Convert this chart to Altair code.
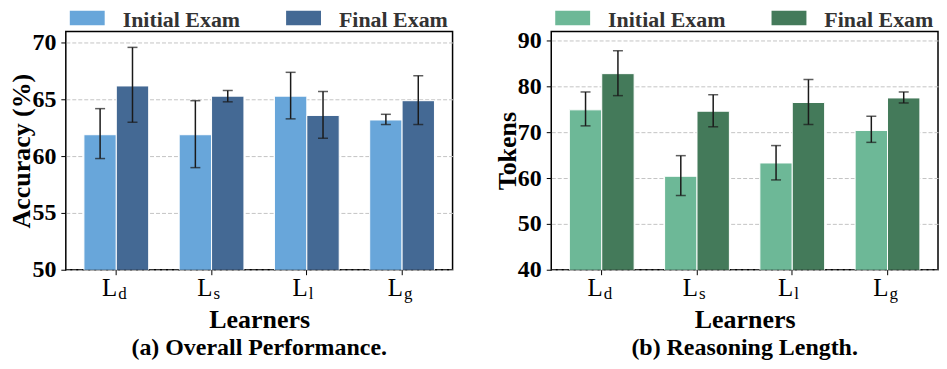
import altair as alt
import pandas as pd

learners = ["Ld", "Ls", "Ll", "Lg"]
subs = ["d", "s", "l", "g"]
exams = ["Initial Exam", "Final Exam"]

acc_init = [61.9, 61.9, 65.3, 63.2]
acc_init_lo = [59.8, 59.0, 63.3, 62.8]
acc_init_hi = [64.2, 64.9, 67.4, 63.7]
acc_final = [66.2, 65.3, 63.6, 64.9]
acc_final_lo = [63.0, 64.8, 61.6, 62.8]
acc_final_hi = [69.6, 65.8, 65.7, 67.1]

tok_init = [74.9, 60.4, 63.3, 70.4]
tok_init_lo = [71.4, 56.2, 59.6, 67.8]
tok_init_hi = [78.8, 64.9, 67.1, 73.5]
tok_final = [82.8, 74.6, 76.5, 77.5]
tok_final_lo = [78.0, 71.2, 71.7, 76.4]
tok_final_hi = [87.8, 78.2, 81.5, 78.8]

acc_colors = ["#68a6da", "#446994"]
tok_colors = ["#6db897", "#447a5a"]

FONT = "Liberation Serif"
W, H = 388, 239


def make_df(vi, li, hi, vf, lf, hf):
    rows = []
    for k, l in enumerate(learners):
        rows.append(dict(learner=l, exam=exams[0], value=vi[k], lo=li[k], hi=hi[k]))
        rows.append(dict(learner=l, exam=exams[1], value=vf[k], lo=lf[k], hi=hf[k]))
    return pd.DataFrame(rows)


lab_df = pd.DataFrame({"learner": learners, "sub": subs})


def panel(df, domain, ticks, ytitle, caption, colors):
    xaxis = alt.Axis(title="Learners", labels=False, ticks=True, tickSize=5,
                     tickColor="black", tickWidth=1, domain=False, grid=False,
                     titleFont=FONT, titleFontSize=26, titleFontWeight="bold",
                     titleColor="black", titlePadding=31)
    x = alt.X("learner:N", sort=learners,
              scale=alt.Scale(paddingInner=0.32, paddingOuter=0.19), axis=xaxis)
    xo = alt.XOffset("exam:N", sort=exams, scale=alt.Scale(paddingInner=0, paddingOuter=0))
    yscale = alt.Scale(domain=domain, nice=False, zero=False)
    yaxis = alt.Axis(values=ticks, title=ytitle, tickSize=5, tickColor="black",
                     tickWidth=1, domain=False, grid=True, gridColor="#c4c4c4",
                     gridDash=[4, 2], gridWidth=1,
                     labelFont=FONT, labelFontSize=24, labelFontWeight="bold",
                     labelColor="black", labelPadding=5,
                     titleFont=FONT, titleFontSize=26, titleFontWeight="bold",
                     titleColor="black", titlePadding=-3)
    color = alt.Color("exam:N", sort=exams,
                      scale=alt.Scale(domain=exams, range=colors),
                      legend=alt.Legend(orient="none", legendX=4, legendY=-22,
                                        direction="horizontal", title=None,
                                        symbolType="M-1,-0.95H1V-0.12H-1Z",
                                        symbolSize=1225, symbolStrokeWidth=0,
                                        symbolOpacity=1,
                                        labelFont=FONT, labelFontSize=22,
                                        labelFontWeight="bold", labelColor="#333333",
                                        labelBaseline="alphabetic",
                                        labelOffset=18, columnPadding=46))
    base = alt.Chart(df)
    bars = base.mark_bar(stroke="white", strokeWidth=1, clip=True, opacity=1).encode(
        x=x, xOffset=xo, y=alt.Y("value:Q", scale=yscale, axis=yaxis), color=color)
    rule = base.mark_rule(color="#1a1a1a", strokeWidth=1.5).encode(
        x=x, xOffset=xo, y=alt.Y("lo:Q", scale=yscale, axis=yaxis), y2="hi:Q")
    cap_lo = base.mark_tick(color="#1a1a1a", thickness=1.5, size=10).encode(
        x=x, xOffset=xo, y=alt.Y("lo:Q", scale=yscale, axis=yaxis))
    cap_hi = base.mark_tick(color="#1a1a1a", thickness=1.5, size=10).encode(
        x=x, xOffset=xo, y=alt.Y("hi:Q", scale=yscale, axis=yaxis))
    lab = alt.Chart(lab_df)
    ltext = lab.mark_text(text="L", font=FONT, fontSize=25, align="right",
                          baseline="alphabetic", dx=1, color="black").encode(
        x=x, y=alt.value(H + 26))
    stext = lab.mark_text(font=FONT, fontSize=17, align="left",
                          baseline="alphabetic", dx=2, color="black").encode(
        x=x, y=alt.value(H + 29), text="sub:N")
    return alt.layer(bars, rule, cap_lo, cap_hi, ltext, stext).properties(
        width=W, height=H,
        view=alt.ViewBackground(stroke="black", strokeWidth=1.5),
        title=alt.TitleParams(caption, orient="bottom", font=FONT, fontSize=24,
                              fontWeight="bold", color="black", offset=4))


acc_df = make_df(acc_init, acc_init_lo, acc_init_hi, acc_final, acc_final_lo, acc_final_hi)
tok_df = make_df(tok_init, tok_init_lo, tok_init_hi, tok_final, tok_final_lo, tok_final_hi)

left = panel(acc_df, [50, 71], [50, 55, 60, 65, 70], "Accuracy (%)",
             "(a) Overall Performance.", acc_colors)
right = panel(tok_df, [40, 92], [40, 50, 60, 70, 80, 90], "Tokens",
              "(b) Reasoning Length.", tok_colors)

chart = alt.hconcat(left, right, spacing=40).resolve_scale(
    color="independent", y="independent", x="independent", xOffset="independent"
).resolve_legend(color="independent").properties(
    padding={"left": 0, "top": 0, "right": 0, "bottom": 0}
).configure_view(stroke="black", strokeWidth=1.5)

chart.save("out.html", embed_options={"renderer": "svg", "actions": False})
